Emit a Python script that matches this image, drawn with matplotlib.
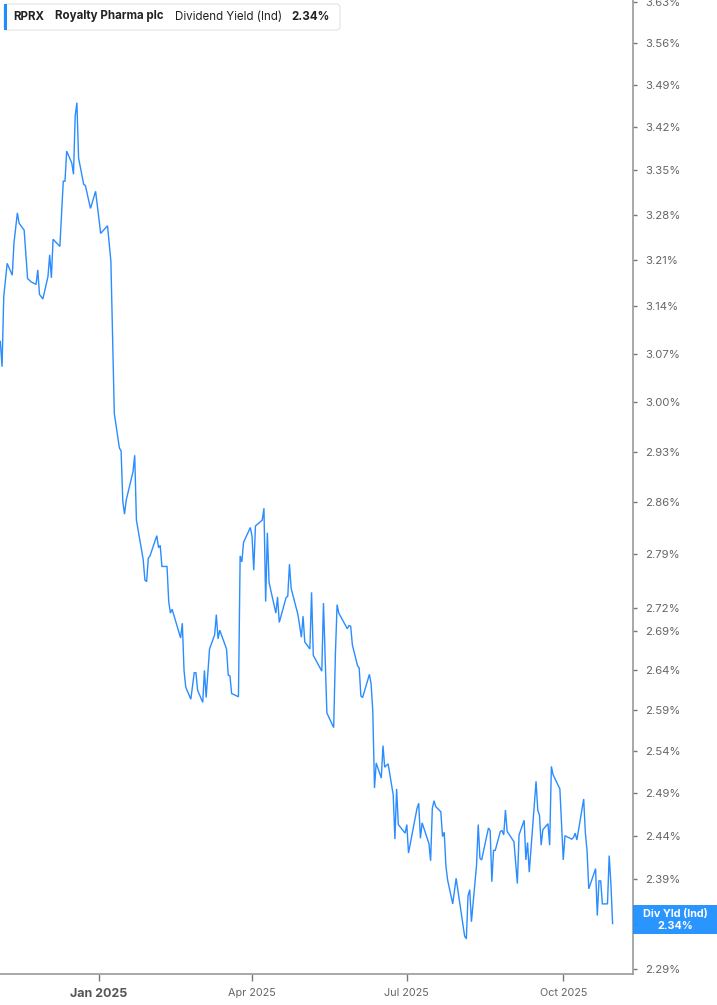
import matplotlib
matplotlib.use("Agg")
import matplotlib.pyplot as plt
import matplotlib.dates as mdates
from matplotlib.patches import FancyBboxPatch, Rectangle
from matplotlib.ticker import FixedLocator, NullLocator, NullFormatter
import pandas as pd

plt.rcParams['font.family'] = ['Inter', 'DejaVu Sans']

dates = [
    "2024-11-04", "2024-11-05", "2024-11-06", "2024-11-08", "2024-11-11", "2024-11-12",
    "2024-11-14", "2024-11-15", "2024-11-18", "2024-11-20", "2024-11-22", "2024-11-25",
    "2024-11-26", "2024-11-27", "2024-11-29", "2024-12-02", "2024-12-03", "2024-12-04",
    "2024-12-05", "2024-12-09", "2024-12-11", "2024-12-12", "2024-12-13", "2024-12-16",
    "2024-12-17", "2024-12-18", "2024-12-19", "2024-12-20", "2024-12-23", "2024-12-24",
    "2024-12-27", "2024-12-30", "2025-01-02", "2025-01-06", "2025-01-08", "2025-01-10",
    "2025-01-13", "2025-01-14", "2025-01-15", "2025-01-16", "2025-01-17", "2025-01-21",
    "2025-01-22", "2025-01-23", "2025-01-27", "2025-01-28", "2025-01-29", "2025-01-30",
    "2025-01-31", "2025-02-04", "2025-02-05", "2025-02-06", "2025-02-07", "2025-02-10",
    "2025-02-11", "2025-02-12", "2025-02-13", "2025-02-18", "2025-02-19", "2025-02-20",
    "2025-02-21", "2025-02-24", "2025-02-26", "2025-02-27", "2025-02-28", "2025-03-03",
    "2025-03-04", "2025-03-05", "2025-03-07", "2025-03-10", "2025-03-11", "2025-03-12",
    "2025-03-13", "2025-03-17", "2025-03-18", "2025-03-19", "2025-03-20", "2025-03-24",
    "2025-03-25", "2025-03-26", "2025-03-27", "2025-03-31", "2025-04-01", "2025-04-02",
    "2025-04-03", "2025-04-07", "2025-04-08", "2025-04-09", "2025-04-10", "2025-04-11",
    "2025-04-15", "2025-04-16", "2025-04-17", "2025-04-21", "2025-04-22", "2025-04-23",
    "2025-04-24", "2025-04-28", "2025-04-30", "2025-05-01", "2025-05-02", "2025-05-05",
    "2025-05-06", "2025-05-07", "2025-05-12", "2025-05-13", "2025-05-15", "2025-05-19",
    "2025-05-20", "2025-05-21", "2025-05-22", "2025-05-27", "2025-05-28", "2025-05-29",
    "2025-05-30", "2025-06-02", "2025-06-03", "2025-06-04", "2025-06-05", "2025-06-09",
    "2025-06-10", "2025-06-11", "2025-06-12", "2025-06-13", "2025-06-16", "2025-06-17",
    "2025-06-18", "2025-06-20", "2025-06-23", "2025-06-24", "2025-06-25", "2025-06-26",
    "2025-06-30", "2025-07-01", "2025-07-02", "2025-07-07", "2025-07-08", "2025-07-09",
    "2025-07-10", "2025-07-14", "2025-07-15", "2025-07-16", "2025-07-17", "2025-07-18",
    "2025-07-21", "2025-07-22", "2025-07-23", "2025-07-24", "2025-07-25", "2025-07-28",
    "2025-07-30", "2025-08-04", "2025-08-05", "2025-08-06", "2025-08-07", "2025-08-08",
    "2025-08-11", "2025-08-12", "2025-08-13", "2025-08-14", "2025-08-18", "2025-08-19",
    "2025-08-20", "2025-08-21", "2025-08-22", "2025-08-25", "2025-08-26", "2025-08-27",
    "2025-08-28", "2025-08-29", "2025-09-02", "2025-09-04", "2025-09-05", "2025-09-08",
    "2025-09-09", "2025-09-10", "2025-09-11", "2025-09-15", "2025-09-16", "2025-09-17",
    "2025-09-18", "2025-09-19", "2025-09-22", "2025-09-23", "2025-09-24", "2025-09-25",
    "2025-09-29", "2025-10-01", "2025-10-02", "2025-10-06", "2025-10-07", "2025-10-08",
    "2025-10-09", "2025-10-13", "2025-10-14", "2025-10-15", "2025-10-16", "2025-10-20",
    "2025-10-21", "2025-10-22", "2025-10-23", "2025-10-24", "2025-10-27", "2025-10-28",
    "2025-10-29", "2025-10-30",
]

div_yield = [
    3.088, 3.051, 3.155, 3.205, 3.187, 3.236,
    3.283, 3.267, 3.256, 3.182, 3.177, 3.173,
    3.195, 3.158, 3.151, 3.185, 3.218, 3.183,
    3.242, 3.231, 3.333, 3.333, 3.381, 3.362,
    3.344, 3.438, 3.460, 3.370, 3.328, 3.326,
    3.290, 3.317, 3.251, 3.263, 3.208, 2.984,
    2.935, 2.931, 2.861, 2.844, 2.863, 2.902,
    2.925, 2.836, 2.783, 2.756, 2.754, 2.785,
    2.788, 2.815, 2.799, 2.802, 2.774, 2.774,
    2.728, 2.713, 2.718, 2.681, 2.700, 2.640,
    2.619, 2.604, 2.637, 2.637, 2.615, 2.600,
    2.640, 2.606, 2.667, 2.685, 2.711, 2.680,
    2.691, 2.667, 2.634, 2.633, 2.611, 2.607,
    2.788, 2.780, 2.806, 2.826, 2.814, 2.769,
    2.828, 2.836, 2.852, 2.728, 2.819, 2.753,
    2.713, 2.734, 2.701, 2.733, 2.735, 2.777,
    2.745, 2.711, 2.682, 2.709, 2.676, 2.667,
    2.740, 2.659, 2.639, 2.726, 2.587, 2.569,
    2.660, 2.724, 2.713, 2.693, 2.697, 2.696,
    2.672, 2.646, 2.643, 2.608, 2.606, 2.635,
    2.623, 2.589, 2.496, 2.526, 2.508, 2.547,
    2.521, 2.525, 2.488, 2.436, 2.495, 2.453,
    2.443, 2.453, 2.420, 2.472, 2.478, 2.437,
    2.455, 2.431, 2.411, 2.472, 2.481, 2.474,
    2.468, 2.439, 2.444, 2.405, 2.389, 2.362,
    2.391, 2.326, 2.323, 2.371, 2.378, 2.342,
    2.406, 2.453, 2.414, 2.412, 2.449, 2.446,
    2.387, 2.423, 2.423, 2.445, 2.446, 2.441,
    2.470, 2.445, 2.433, 2.385, 2.441, 2.458,
    2.412, 2.432, 2.398, 2.504, 2.470, 2.464,
    2.429, 2.447, 2.454, 2.429, 2.522, 2.512,
    2.495, 2.412, 2.440, 2.436, 2.438, 2.443,
    2.435, 2.483, 2.443, 2.422, 2.379, 2.402,
    2.349, 2.388, 2.388, 2.362, 2.362, 2.417,
    2.385, 2.340,
]

y_ticks = [3.63, 3.56, 3.49, 3.42, 3.35, 3.28, 3.21, 3.14, 3.07, 3.00, 2.93, 2.86,
           2.79, 2.72, 2.69, 2.64, 2.59, 2.54, 2.49, 2.44, 2.39, 2.34, 2.29]
x_tick_dates = ["2025-01-01", "2025-04-01", "2025-07-01", "2025-10-01"]
x_tick_labels = ["Jan 2025", "Apr 2025", "Jul 2025", "Oct 2025"]

ticker_sym = "RPRX"
company = "Royalty Pharma plc"
metric = "Dividend Yield (Ind)"
last_value = 2.34
last_label = "2.34%"
box_title = "Div Yld (Ind)"

LINE = "#2a8cff"
AXIS = "#9a9a9a"
TXT = "#666666"

W, H = 717, 1005
fig = plt.figure(figsize=(W / 100, H / 100), dpi=100)
fig.patch.set_facecolor("white")
ax = fig.add_axes([0, 31 / H, 632.5 / W, 974 / H])

x = pd.to_datetime(dates)
ax.plot(x, div_yield, color=LINE, lw=1.0, solid_joinstyle="miter")

ax.set_yscale("log")
ax.set_ylim(2.2844, 3.6335)
ax.set_xlim(pd.Timestamp("2024-11-03 19:00"), pd.Timestamp("2025-11-10 17:00"))

ax.yaxis.tick_right()
ax.yaxis.set_major_locator(FixedLocator(y_ticks))
ax.yaxis.set_minor_locator(NullLocator())
ax.yaxis.set_minor_formatter(NullFormatter())
# the tick at the current value is covered by the value box
ax.set_yticklabels(["" if abs(v - last_value) < 1e-9 else f"{v:.2f}%" for v in y_ticks])

ax.xaxis.set_major_locator(FixedLocator(mdates.date2num(pd.to_datetime(x_tick_dates))))
ax.xaxis.set_minor_locator(NullLocator())
ax.set_xticklabels(x_tick_labels)

for side in ["left", "top"]:
    ax.spines[side].set_visible(False)
for side in ["right", "bottom"]:
    ax.spines[side].set_color(AXIS)
    ax.spines[side].set_linewidth(1.2)

ax.tick_params(axis="y", which="major", length=3, width=1, color="#777777",
               labelsize=8.2, labelcolor=TXT, pad=6)
ax.tick_params(axis="x", which="major", length=5, width=1, color="#777777",
               labelsize=7.8, labelcolor=TXT, pad=5)
for lab in ax.get_xticklabels():
    if lab.get_text().startswith("Jan"):
        lab.set_fontweight("bold")
        lab.set_fontsize(9)
        lab.set_color("#555555")

# current value box on the right axis
box_top, box_bot = 905, 934
fig.patches.append(Rectangle((633 / W, 1 - box_bot / H), (W - 633) / W, (box_bot - box_top) / H,
                             transform=fig.transFigure, facecolor="#1e8fff", edgecolor="none",
                             alpha=0.95, zorder=10))
fig.text(675 / W, 1 - 913.5 / H, box_title, color="white", fontsize=7.8,
         fontweight="bold", ha="center", va="center", zorder=11)
fig.text(675 / W, 1 - 926 / H, last_label, color="white", fontsize=7.8,
         fontweight="bold", ha="center", va="center", zorder=11)

# legend / header box
fig.patches.append(FancyBboxPatch((4 / W, 1 - 30 / H), 336 / W, 26 / H,
                                  boxstyle="round,pad=0,rounding_size=0.004",
                                  transform=fig.transFigure, facecolor="white",
                                  edgecolor="#e3e3e3", lw=0.8, zorder=10))
fig.patches.append(Rectangle((4 / W, 1 - 30 / H), 3 / W, 26 / H, transform=fig.transFigure,
                             facecolor="#1e8fff", edgecolor="none", zorder=11))
yy = 1 - 16.5 / H
fs = 8.3
fig.text(13 / W, yy, ticker_sym, fontsize=fs, fontweight="bold", color="#222222",
         va="center", ha="left", zorder=12)
fig.text(55 / W, yy, company, fontsize=fs, fontweight="bold", color="#222222",
         va="center", ha="left", zorder=12)
fig.text(175 / W, yy, metric, fontsize=fs, color="#222222", va="center", ha="left", zorder=12)
fig.text(291 / W, yy, last_label, fontsize=fs, fontweight="bold", color="#222222",
         va="center", ha="left", zorder=12)

fig.savefig("out.png", dpi=100, facecolor="white")
